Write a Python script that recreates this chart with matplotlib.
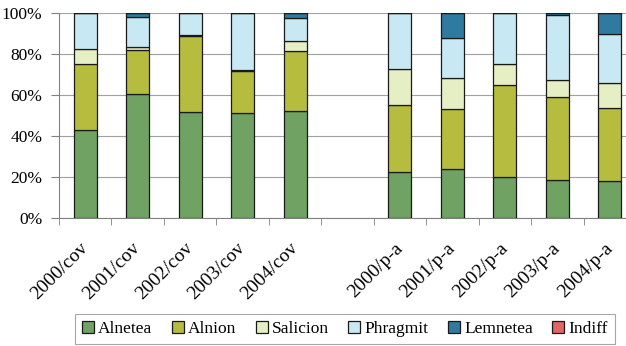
import numpy as np
import matplotlib
matplotlib.use("Agg")
from matplotlib import pyplot as plt
from matplotlib.ticker import PercentFormatter
from matplotlib.transforms import ScaledTranslation

# categorias (hueco vacio entre cov y p-a)
categorias = ["2000/cov", "2001/cov", "2002/cov", "2003/cov", "2004/cov", "",
              "2000/p-a", "2001/p-a", "2002/p-a", "2003/p-a", "2004/p-a"]

# porcentajes por tipo de vegetacion (None = sin barra)
alnetea = [43.0, 60.5, 51.7, 51.0, 52.3, None, 22.3, 23.9, 20.0, 18.7, 17.9]
alnion = [32.0, 21.3, 36.9, 20.5, 29.0, None, 33.0, 29.4, 44.9, 40.1, 35.6]
salicion = [7.2, 1.4, 0.7, 0.8, 5.0, None, 17.5, 14.8, 10.2, 8.5, 12.2]
phragmit = [17.8, 14.8, 10.7, 27.7, 11.3, None, 27.2, 19.5, 24.9, 31.5, 24.3]
lemnetea = [0.0, 2.0, 0.0, 0.0, 2.4, None, 0.0, 12.4, 0.0, 1.2, 10.0]
indiff = [0.0, 0.0, 0.0, 0.0, 0.0, None, 0.0, 0.0, 0.0, 0.0, 0.0]

series = [("Alnetea", alnetea, "#6fa263"),
          ("Alnion", alnion, "#b6bc3e"),
          ("Salicion", salicion, "#e6eec4"),
          ("Phragmit", phragmit, "#c8e9f4"),
          ("Lemnetea", lemnetea, "#2f7aa1"),
          ("Indiff", indiff, "#e26464")]

plt.rcParams['font.family'] = ['Liberation Serif', 'DejaVu Serif']

fig = plt.figure(figsize=(6.26, 3.46), dpi=100)
ax = fig.add_axes([59 / 626, 128 / 346, 577 / 626, 205 / 346])

x = np.arange(len(categorias))
idx = [i for i in x if alnetea[i] is not None]
base = np.zeros(len(idx))
for nombre, valores, color in series:
    v = np.array([valores[i] for i in idx], dtype=float)
    ax.bar(idx, v, bottom=base, width=0.44, color=color, edgecolor="#1a1a1a",
           linewidth=0.9, label=nombre, zorder=3)
    base = base + v

ax.set_xlim(-0.5, len(categorias) - 0.5)
ax.set_ylim(0, 100)
ax.set_yticks(np.arange(0, 101, 20))
ax.yaxis.set_major_formatter(PercentFormatter(decimals=0))
ax.grid(axis="y", color="#a0a0a0", linewidth=0.8, zorder=0)

ax.set_xticks(x)
ax.set_xticklabels(categorias, rotation=45, ha="right", va="center",
                   rotation_mode="anchor", fontsize=14)
desplaza = ScaledTranslation(-5 / 100, 0, fig.dpi_scale_trans)
for lab in ax.get_xticklabels():
    lab.set_transform(lab.get_transform() + desplaza)
ax.set_xticks(np.arange(-0.5, len(categorias), 1), minor=True)
ax.tick_params(axis="x", which="major", length=0, pad=20)
ax.tick_params(axis="x", which="minor", length=5, color="#808080")
ax.tick_params(axis="y", labelsize=12.5, length=6, color="#808080", pad=6)

for lado in ["top", "right"]:
    ax.spines[lado].set_visible(False)
ax.spines["left"].set_color("#808080")
ax.spines["bottom"].set_color("#808080")

leg = fig.legend(loc="center", bbox_to_anchor=(0.551, 0.049), ncol=6,
                 fontsize=12.5, frameon=True, fancybox=False, edgecolor="#909090",
                 handlelength=0.7, handleheight=0.7, handletextpad=0.25,
                 columnspacing=1.1, borderpad=0.4)
leg.get_frame().set_linewidth(0.8)

fig.savefig("out.png", dpi=100)
